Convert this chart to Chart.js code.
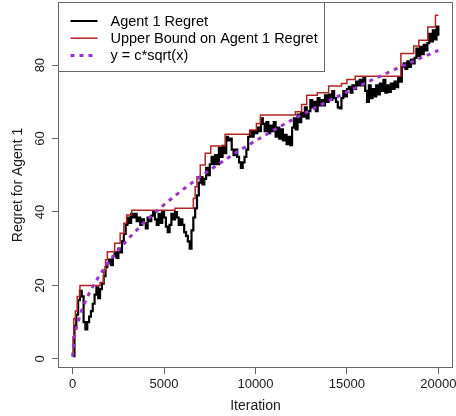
<!DOCTYPE html>
<html>
<head>
<meta charset="utf-8">
<script src="https://cdn.jsdelivr.net/npm/chart.js@4.4.1/dist/chart.umd.min.js"></script>
<style>
  html, body { margin: 0; padding: 0; background: #fff; }
  #wrap { width: 456px; height: 416px; }
</style>
</head>
<body>
<div id="wrap"><canvas id="regretChart" width="456" height="416"></canvas></div>
<script>
// regret of agent 1, one value every 100 iterations
const regret = [
    0.7, 9, 12, 16, 18.5, 17, 10, 8, 10, 11.5,
    13, 15, 17.5, 19.5, 16.5, 19, 20.5, 22.5, 25, 26,
    27, 25.5, 28, 29, 27.5, 30, 29, 32, 34, 36.5,
    38.5, 37, 39.5, 38.5, 39.5, 37.5, 38.5, 36.5, 38, 37,
    35.5, 38.5, 37.5, 39, 40, 38, 36.5, 39.5, 37, 40,
    38.5, 36, 34.5, 36.5, 39.5, 38, 40, 38.5, 36.5, 38,
    36.5, 34.5, 33.5, 32, 30, 35, 38.5, 41, 44.5, 48,
    49.5, 47.5, 49, 52, 50, 53, 55, 53, 55.5, 53,
    57.5, 55, 58, 56, 60.5, 59.5, 60, 57, 55.5, 57,
    55, 53.5, 52, 53.5, 55, 57, 60.5, 62, 60.5, 62,
    61.5, 63, 62, 65.5, 64, 62, 64.5, 61.5, 63.5, 62,
    64.5, 60.5, 63, 60, 62.5, 59.5, 61, 58.5, 60.5, 58.2,
    63, 65.5, 62.5, 66.5, 64.5, 67, 66, 68.5, 65.5, 67.5,
    70.5, 68.5, 70, 67.5, 71, 69, 70.5, 69, 71.8, 70,
    72, 70.5, 72.9, 71, 70, 68.5, 68.2, 71, 72.9, 71.5,
    73.5, 74.1, 72.5, 74.5, 73.5, 75.5, 74.5, 76, 74.5, 76.5,
    73, 70, 74.5, 71, 73.5, 71.5, 74.5, 72, 75, 73,
    76, 72.5, 74.5, 72.7, 75, 73.5, 75.5, 74, 76.5, 75.5,
    79.5, 80.5, 79, 81, 79.5, 81.5, 80.5, 82, 84.5, 82.5,
    85, 83, 85.5, 84, 86, 88.5, 86.5, 89.5, 87, 90.5,
    88
];
const iterations = regret.map((v, i) => i * 100);

// upper bound: iteration where it steps up, and the new level
const boundX = [0, 20, 60, 150, 250, 400, 1500, 1700, 1800, 1900, 2300, 2600, 2800, 2950, 3230,
    5600, 6600, 6700, 6800, 6980, 7250, 7550, 8340, 9700, 10050, 10270, 12180, 12520, 12800,
    13380, 14000, 14700, 15000, 15450, 17950, 18650, 18930, 19420, 19840, 20000];
const boundY = [0.7, 6, 11, 13, 17, 20, 20.8, 24, 27, 29.2, 31.5, 34.2, 36.9, 39.2, 40.5,
    41, 43.7, 46.9, 49.6, 52.8, 56, 58, 61.2, 62.3, 64.1, 66.4, 67.3, 69.3, 71.8,
    72.5, 74.3, 75, 76.1, 77, 83.2, 85.2, 86.8, 90.4, 93.6, 93.6];

// y = c*sqrt(x) curve
const curveX = [0, 50, 100, 150, 250, 500, 750, 1000, 1500, 2000, 3000, 4000, 5000, 6000, 7000,
    8000, 9000, 10000, 11000, 12000, 13000, 14000, 15000, 16000, 17000, 18000, 19000, 20000];
const curveY = [0.6, 4.2, 5.9, 7.3, 9.4, 13.3, 16.3, 18.8, 23, 26.6, 32.5, 37.6, 42, 46, 49.7,
    53.1, 56.4, 59.4, 62.3, 65.1, 67.7, 70.3, 72.7, 75.1, 77.4, 79.7, 81.9, 84];

const xTicks = [0, 5000, 10000, 15000, 20000];
const yTicks = [0, 20, 40, 60, 80];
const seriesLabels = ['Agent 1 Regret', 'Upper Bound on Agent 1 Regret', 'y = c*sqrt(x)'];

const AXIS_COLOR = '#666';
const TEXT_COLOR = '#1a1a1a';

Chart.defaults.font.family = '"Liberation Sans", Arial, sans-serif';
Chart.defaults.color = TEXT_COLOR;

function toPoints(xs, ys) {
    return xs.map((x, i) => ({ x: x, y: ys[i] }));
}

// box round the plot region, like R's box()
const boxPlugin = {
    id: 'plotBox',
    afterDraw(chart) {
        const { ctx, chartArea: a } = chart;
        ctx.save();
        ctx.strokeStyle = AXIS_COLOR;
        ctx.lineWidth = 1;
        ctx.strokeRect(Math.round(a.left) + 0.5, Math.round(a.top) + 0.5,
            Math.round(a.right - a.left) - 1, Math.round(a.bottom - a.top) - 1);
        ctx.restore();
    }
};

// legend in the top left corner with a framed white box
const legendWidths = [2, 1.5, 3];
const legendPlugin = {
    id: 'cornerLegend',
    afterDraw(chart) {
        const { ctx, chartArea: a } = chart;
        const left = Math.round(a.left) + 0.5;
        const top = Math.round(a.top) + 0.5;
        const w = 266, h = 69;
        ctx.save();
        ctx.fillStyle = '#fff';
        ctx.fillRect(left, top, w, h);
        ctx.strokeStyle = AXIS_COLOR;
        ctx.lineWidth = 1;
        ctx.strokeRect(left, top, w, h);
        ctx.font = '14.5px "Liberation Sans", Arial, sans-serif';
        ctx.textBaseline = 'middle';
        chart.data.datasets.forEach((ds, i) => {
            const y = top + 18.5 + i * 17.2;
            ctx.beginPath();
            ctx.strokeStyle = ds.borderColor;
            ctx.lineWidth = legendWidths[i];
            ctx.setLineDash(ds.borderDash || []);
            ctx.moveTo(left + 12, y);
            ctx.lineTo(left + 39, y);
            ctx.stroke();
            ctx.setLineDash([]);
            ctx.fillStyle = '#000';
            ctx.fillText(ds.label, left + 52, y + 0.5);
        });
        ctx.restore();
    }
};

const ctx = document.getElementById('regretChart').getContext('2d');
const regretChart = new Chart(ctx, {
    type: 'line',
    data: {
        datasets: [{
            label: seriesLabels[0],
            data: toPoints(iterations, regret),
            borderColor: '#000',
            borderWidth: 2.2,
            pointRadius: 0,
            stepped: true,
            order: 3
        }, {
            label: seriesLabels[1],
            data: toPoints(boundX, boundY),
            borderColor: '#B22222',
            borderWidth: 1.5,
            pointRadius: 0,
            stepped: true,
            order: 2
        }, {
            label: seriesLabels[2],
            data: toPoints(curveX, curveY),
            borderColor: '#9A32CD',
            borderWidth: 3,
            borderDash: [4, 5],
            pointRadius: 0,
            tension: 0,
            order: 1
        }]
    },
    options: {
        responsive: false,
        animation: false,
        devicePixelRatio: 1,
        layout: { padding: { top: 2, right: 3, bottom: 0, left: 0 } },
        plugins: {
            legend: { display: false },
            tooltip: { enabled: false }
        },
        scales: {
            x: {
                type: 'linear',
                min: -800,
                max: 20800,
                afterBuildTicks: function(scale) {
                    scale.ticks = xTicks.map(v => ({ value: v }));
                },
                afterFit: function(scale) {
                    scale.height = 48;
                    scale.paddingLeft = 0;
                    scale.paddingRight = 0;
                },
                ticks: {
                    autoSkip: false,
                    maxRotation: 0,
                    padding: 3,
                    font: { size: 13 },
                    color: TEXT_COLOR,
                    callback: function(value) { return String(value); }
                },
                grid: {
                    drawOnChartArea: false,
                    drawTicks: true,
                    tickLength: 6,
                    color: AXIS_COLOR
                },
                border: { display: false },
                title: {
                    display: true,
                    text: 'Iteration',
                    font: { size: 14 },
                    color: TEXT_COLOR,
                    padding: { top: 0, bottom: 1 }
                }
            },
            y: {
                type: 'linear',
                min: -2.5,
                max: 97.2,
                afterBuildTicks: function(scale) {
                    scale.ticks = yTicks.map(v => ({ value: v }));
                },
                afterFit: function(scale) {
                    scale.width = 58;
                    scale.paddingTop = 0;
                    scale.paddingBottom = 0;
                },
                ticks: {
                    autoSkip: false,
                    minRotation: 90,
                    maxRotation: 90,
                    crossAlign: 'center',
                    padding: 4,
                    font: { size: 13 },
                    color: TEXT_COLOR,
                    callback: function(value) { return String(value); }
                },
                grid: {
                    drawOnChartArea: false,
                    drawTicks: true,
                    tickLength: 6,
                    color: AXIS_COLOR
                },
                border: { display: false },
                title: {
                    display: true,
                    text: 'Regret for Agent 1',
                    font: { size: 14 },
                    color: TEXT_COLOR,
                    padding: { top: 10, bottom: 0 }
                }
            }
        }
    },
    plugins: [boxPlugin, legendPlugin]
});
</script>
</body>
</html>
